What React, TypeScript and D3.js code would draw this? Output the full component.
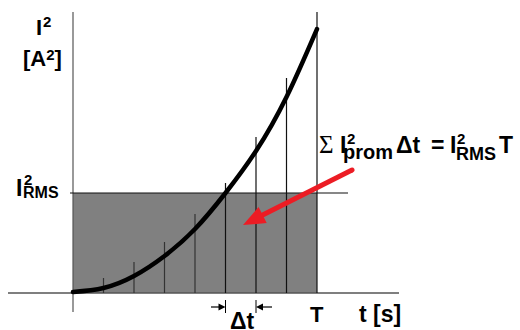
import React from "react";
import * as d3 from "d3";

// Time in units of Δt (T = 8 Δt)
const steps = [0, 1, 2, 3, 4, 5, 6, 7, 8];
// Instantaneous I² along the curve, sampled at each step
const curveI2 = [1, 5, 17, 37, 64, 100, 142, 196, 264];
// Heights of the strip dividers (I²_prom of each strip), one per step after 0
const stripTops = [15, 31, 51, 79, 110, 156, 215, 281];
// Mean square value
const i2rms = 100;

const W = 520;
const H = 330;

const sans = "'Liberation Sans', Arial, sans-serif";
const serif = "'Liberation Serif', 'Times New Roman', serif";

export default function App() {
  const x = d3.scaleLinear().domain([0, 8]).range([73, 317]);
  const y = d3.scaleLinear().domain([0, 281]).range([293, 12]);

  const line = d3
    .line<number>()
    .x((_, i) => x(steps[i]))
    .y((d) => y(d))
    .curve(d3.curveNatural);

  const x0 = x(0);
  const xT = x(8);
  const yRms = y(i2rms);
  const y0 = y(0);

  const dtA = x(5);
  const dtB = x(6);

  // red pointer arrow
  const ax1 = 352, ay1 = 170, ax2 = 243, ay2 = 225;
  const ang = Math.atan2(ay2 - ay1, ax2 - ax1);
  const headLen = 22, headW = 9;
  const bx = ax2 - headLen * Math.cos(ang);
  const by = ay2 - headLen * Math.sin(ang);
  const px = -Math.sin(ang), py = Math.cos(ang);
  const head = `M${ax2},${ay2} L${bx + px * headW},${by + py * headW} L${bx - px * headW},${by - py * headW} Z`;

  const bold = { fontFamily: sans, fontWeight: 700, fill: "#000" } as const;

  return (
    <svg width={W} height={H} style={{ position: "absolute", left: 0, top: 0, background: "#fff" }}>
      {/* shaded area I²_RMS · T */}
      <rect x={x0} y={yRms} width={xT - x0} height={y0 - yRms} fill="#808080" />

      {/* axes */}
      <line x1={x0} y1={12} x2={x0} y2={312} stroke="#555" strokeWidth={1.2} />
      <line x1={8} y1={y0} x2={399} y2={y0} stroke="#555" strokeWidth={1.4} />

      {/* strip dividers */}
      {stripTops.map((v, i) => (
        <line
          key={i}
          x1={x(steps[i + 1])}
          x2={x(steps[i + 1])}
          y1={y0}
          y2={y(v)}
          stroke={v > i2rms ? "#111" : "#333"}
          strokeWidth={1.2}
        />
      ))}

      {/* I²_RMS level */}
      <line x1={70} y1={yRms} x2={348} y2={yRms} stroke="#111" strokeWidth={1.2} />

      {/* I²(t) curve */}
      <path d={line(curveI2) ?? ""} fill="none" stroke="#000" strokeWidth={4.5} strokeLinecap="round" />

      {/* pointer arrow */}
      <line x1={ax1} y1={ay1} x2={bx} y2={by} stroke="#ec1c24" strokeWidth={5} strokeLinecap="round" />
      <path d={head} fill="#ec1c24" />

      {/* Δt marker */}
      <line x1={dtA} y1={300} x2={dtA} y2={313} stroke="#000" strokeWidth={1} />
      <line x1={dtB} y1={300} x2={dtB} y2={313} stroke="#000" strokeWidth={1} />
      <line x1={211} y1={307} x2={dtA - 5} y2={307} stroke="#000" strokeWidth={1.2} />
      <path d={`M${dtA},307 L${dtA - 7},303.5 L${dtA - 7},310.5 Z`} fill="#000" />
      <line x1={dtB + 5} y1={307} x2={272} y2={307} stroke="#000" strokeWidth={1.2} />
      <path d={`M${dtB},307 L${dtB + 7},303.5 L${dtB + 7},310.5 Z`} fill="#000" />
      <text x={230} y={329} fontSize={23} {...bold}>Δt</text>

      {/* x axis labels */}
      <text x={310} y={322} fontSize={22} {...bold}>T</text>
      <text x={359} y={322} fontSize={23} {...bold}>t [s]</text>

      {/* y axis title */}
      <text x={36} y={35} fontSize={22} {...bold}>
        I<tspan fontSize={15} dx={0.9} dy={-8}>2</tspan>
      </text>
      <text x={23} y={66} fontSize={22} {...bold}>
        [A<tspan fontSize={15} dy={-6}>2</tspan>
        <tspan fontSize={22} dy={6}>]</tspan>
      </text>

      {/* I²_RMS level label */}
      <text x={16} y={196} fontSize={23} {...bold}>
        I<tspan fontSize={15} dx={1.6} dy={-11}>2</tspan>
        <tspan fontSize={16} dx={-9.3} dy={13}>RMS</tspan>
      </text>

      {/* equation */}
      <text x={319} y={153} fontSize={25} fontFamily={serif} fill="#000">Σ</text>
      <text x={340} y={153} fontSize={23} {...bold}>
        I<tspan fontSize={15} dx={0.6} dy={-9}>2</tspan>
        <tspan fontSize={20} dx={-12.3} dy={15}>prom</tspan>
      </text>
      <text x={396} y={153} fontSize={23} {...bold}>Δt</text>
      <text x={431} y={153} fontSize={23} {...bold}>=</text>
      <text x={450} y={153} fontSize={23} {...bold}>
        I<tspan fontSize={15} dx={0.6} dy={-9}>2</tspan>
        <tspan fontSize={18} dx={-9.3} dy={16}>RMS</tspan>
      </text>
      <text x={499} y={153} fontSize={23} {...bold}>T</text>
    </svg>
  );
}
